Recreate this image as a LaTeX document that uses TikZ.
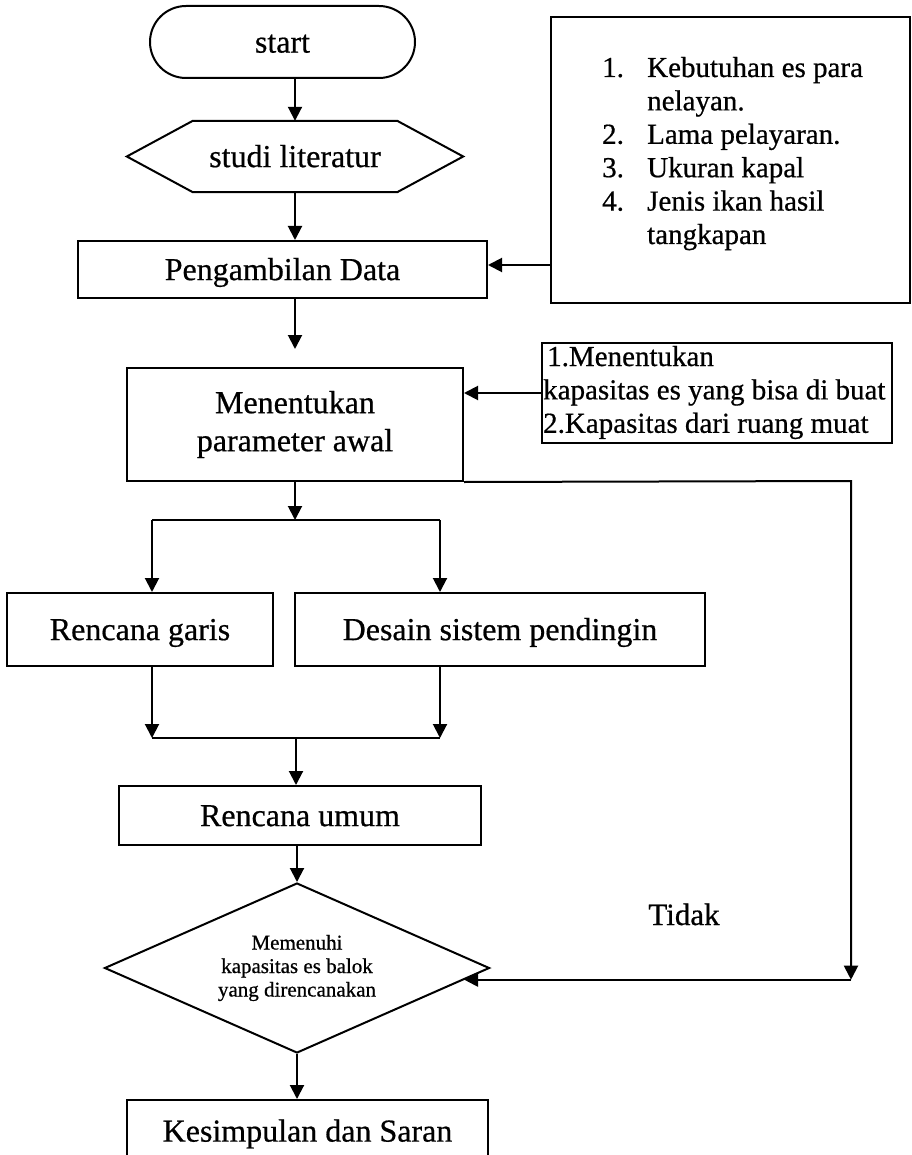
\documentclass[tikz,border=0pt]{standalone}
\usepackage{fontspec}
\setmainfont{Liberation Serif}[BoldFont={Liberation Serif}, BoldFeatures={FakeBold=0.6}]
\usetikzlibrary{arrows.meta,shapes.geometric}
\begin{document}
\begin{tikzpicture}[x=1pt,y=-1pt,
  lw/.style={line width=2pt},
  frame/.style={draw, lw, rectangle, inner sep=0pt, font=\fontsize{32}{38}\selectfont\bfseries},
  single/.style={frame, text height=24pt, text depth=2.8pt},
  arr/.style={lw, -{Triangle[length=14pt,width=14pt]}},
  ln/.style={lw},
]
\clip (0,0) rectangle (911,1155);
\fill[white] (0,0) rectangle (911,1155);

% nodes
\node[single, rounded corners=36pt, minimum width=265pt, minimum height=72pt] (start) at (282.5,42) {start};
\node[inner sep=0pt, minimum width=336pt, minimum height=71pt, font=\fontsize{32}{38}\selectfont\bfseries, text height=24pt, text depth=2.8pt] (lit) at (295,156.5) {studi literatur};
\draw[lw] (lit.west) -- ([xshift=66pt]lit.north west) -- ([xshift=-66pt]lit.north east) -- (lit.east) -- ([xshift=-66pt]lit.south east) -- ([xshift=66pt]lit.south west) -- cycle;
\node[single, minimum width=409pt, minimum height=57pt] (peng) at (282.5,269.5) {Pengambilan Data};
\node[frame, minimum width=359pt, minimum height=286pt] (list1) at (730.5,160) {};
\node[inner sep=0pt, anchor=base west, font=\fontsize{29}{33.4}\selectfont\bfseries] (list1t) at (602,77)
  {\begin{tabular}[t]{@{}l@{}l@{}}\makebox[45pt][l]{1.}&Kebutuhan es para\\&nelayan.\\\makebox[45pt][l]{2.}&Lama pelayaran.\\\makebox[45pt][l]{3.}&Ukuran kapal\\\makebox[45pt][l]{4.}&Jenis ikan hasil\\&tangkapan\end{tabular}};
\node[frame, minimum width=336pt, minimum height=113pt, align=center] (mid) at (295,424.5) {Menentukan\\parameter awal};
\node[frame, minimum width=350pt, minimum height=100pt] (list2) at (717,393) {};
\node[inner sep=0pt, anchor=base west, font=\fontsize{29}{33.4}\selectfont\bfseries] (list2t) at (543,366)
  {\begin{tabular}[t]{@{}l@{}}\hspace*{4pt}1.Menentukan\\kapasitas es yang bisa di buat\\2.Kapasitas dari ruang muat\end{tabular}};
\node[single, minimum width=266pt, minimum height=73pt] (garis) at (140,629.5) {Rencana garis};
\node[single, minimum width=410pt, minimum height=73pt] (desain) at (500,629.5) {Desain sistem pendingin};
\node[single, minimum width=362pt, minimum height=59pt] (umum) at (300,815.5) {Rencana umum};
\node[draw, lw, diamond, aspect=2.26, minimum width=385pt, minimum height=170pt, inner sep=0pt, align=center, font=\fontsize{21}{23.5}\selectfont\bfseries] (dec) at (297,968) {Memenuhi\\kapasitas es balok\\yang direncanakan};
\node[single, minimum width=361pt, minimum height=62pt] (kes) at (307.5,1131) {Kesimpulan dan Saran};
\node[anchor=base, inner sep=0pt, font=\fontsize{31}{36}\selectfont\bfseries] (tidak) at (684,925) {Tidak};

% coordinates
\coordinate (bl) at (152,520);
\coordinate (brr) at (440,520);
\coordinate (jl) at (152,738);
\coordinate (jr) at (440,738);
\coordinate (jm) at (296,738);
\coordinate (c1) at (851,481);

% connectors
\draw[arr] (lit.north |- start.south) -- (lit.north);
\draw[arr] (lit.south) -- (lit.south |- peng.north);
\draw[arr] (list1.west |- 0,265) -- (peng.east |- 0,265);
\draw[arr] (peng.south -| mid.north) -- ([yshift=18pt]mid.north);
\draw[arr] (list2.west) -- (mid.east |- list2.west);
\draw[arr] (mid.south) -- (mid.south |- bl);
\draw[ln] (bl) -- (brr);
\draw[arr] (bl) -- (bl |- garis.north);
\draw[arr] (brr) -- (brr |- desain.north);
\draw[arr] (bl |- garis.south) -- (jl);
\draw[arr] (brr |- desain.south) -- (jr);
\draw[ln] (jl) -- (jr);
\draw[arr] (jm) -- (jm |- umum.north);
\draw[arr] (umum.south -| dec.north) -- (dec.north);
\draw[arr] (dec.south) -- (dec.south |- kes.north);
\draw[arr] (mid.south east) -- (c1) -- (c1 |- dec.-4.2);
\draw[arr] (c1 |- dec.-4.2) -- (dec.-4.2);
\end{tikzpicture}
\end{document}
